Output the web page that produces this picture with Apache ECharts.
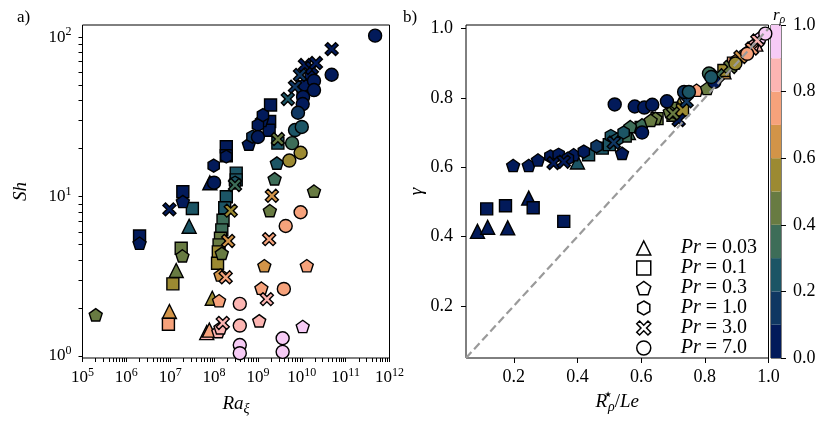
<!DOCTYPE html>
<html><head><meta charset="utf-8">
<script src="https://cdn.jsdelivr.net/npm/echarts@6/dist/echarts.min.js"></script>
<style>html,body{margin:0;padding:0;background:#fff}#c{width:830px;height:422px}</style>
</head><body><div id="c"></div>
<script>
// ---------- data ----------
const prNames = ['Pr = 0.03','Pr = 0.1','Pr = 0.3','Pr = 1.0','Pr = 3.0','Pr = 7.0'];
// left panel: [Ra_xi, Sh, r_rho]
const leftTri = [[8.0e7,12.2,0.05],[2.7e7,6.5,0.25],[1.37e7,3.43,0.45],[9.6e6,1.90,0.65],[9.1e7,2.30,0.55],[6.8e7,1.40,0.85],[7.8e7,1.45,0.75]];
const leftSq = [[1.94e9,37.5,0.05],[1.85e9,29.5,0.05],[1.8e9,26.0,0.05],[1.9e8,20.5,0.05],[1.9e8,18.0,0.05],[1.94e7,10.7,0.05],[2.0e6,5.65,0.05],[3.2e8,14.0,0.25],[3.2e8,12.7,0.25],[3.2e7,8.4,0.25],[2.85e9,21.6,0.25],[1.78e7,4.73,0.45],[1.15e7,2.83,0.55],[9.1e6,1.58,0.75],[1.9e8,9.97,0.25],[1.75e8,8.5,0.25],[1.6e8,7.1,0.35],[1.5e8,6.17,0.35],[1.4e8,5.47,0.45],[1.3e8,4.97,0.45],[1.25e8,4.49,0.55],[1.2e8,3.81,0.55]];
const leftPent = [[2.0e6,5.09,0.05],[1.94e7,9.3,0.05],[6.2e8,21.3,0.05],[1.23e9,30,0.05],[2.0e5,1.81,0.45],[2.7e9,16.2,0.25],[2.4e9,12.9,0.35],[1.9e10,10.8,0.45],[1.87e9,8.15,0.45],[1.9e7,4.24,0.45],[1.4e9,3.68,0.65],[1.3e10,3.68,0.75],[1.2e9,2.66,0.75],[1.07e9,1.66,0.85],[1.05e10,1.53,0.95],[1.5e8,4.4,0.45],[1.4e8,3.22,0.65],[1.3e8,2.22,0.75],[1.25e8,1.42,0.85],[1.4e8,1.5,0.85]];
const leftHex = [[9.8e7,15.6,0.05],[1.9e8,17.8,0.05],[7.5e8,23.7,0.15],[1.0e9,28,0.05],[1.3e9,32.4,0.05],[3.0e8,12.2,0.25],[1.05e10,44,0.05],[1.15e10,50,0.05],[1.6e10,57,0.05]];
const leftX = [[4.8e10,84,0.05],[1.18e10,66.7,0.05],[1.7e10,64,0.05],[2.1e10,68.7,0.05],[9.1e9,57.8,0.15],[7.0e9,48.8,0.15],[4.8e9,40.9,0.25],[2.85e9,22.9,0.45],[2.08e9,10.1,0.65],[1.8e9,5.4,0.7],[1.6e9,2.27,0.85],[9.6e6,8.3,0.05],[3.0e8,11.8,0.35],[2.4e8,8.15,0.5],[2.1e8,5.26,0.65],[1.84e8,3.11,0.75],[1.58e8,1.61,0.85]];
const leftCirc = [[4.7e11,102,0.05],[4.8e10,58,0.05],[1.9e10,53.2,0.05],[1.9e10,46.5,0.05],[1.07e10,42,0.05],[1.05e10,38,0.05],[8.2e9,33.5,0.15],[7.0e9,26.1,0.25],[1.0e10,27.3,0.25],[6.0e9,21.6,0.35],[9.4e9,18.8,0.55],[5.2e9,16.8,0.55],[1.0e9,23.6,0.05],[1.0e8,12.2,0.05],[9.4e9,7.96,0.75],[4.3e9,6.53,0.75],[3.9e9,2.63,0.75],[3.86e8,2.12,0.85],[3.86e8,1.55,0.85],[3.86e8,1.17,0.95],[3.86e8,1.04,0.95],[3.66e9,1.29,0.95],[3.66e9,1.06,0.95]];
// right panel: [R*/Le, gamma, r_rho]
const rightTri = [[0.086,0.415,0.05],[0.118,0.427,0.05],[0.181,0.425,0.05],[0.247,0.511,0.05],[0.40,0.615,0.25],[0.56,0.70,0.35],[0.72,0.78,0.55],[0.86,0.875,0.65],[0.96,0.955,0.85]];
const rightSq = [[0.115,0.48,0.05],[0.174,0.489,0.05],[0.261,0.483,0.05],[0.357,0.444,0.05],[0.435,0.636,0.25],[0.478,0.655,0.25],[0.50,0.665,0.25],[0.55,0.69,0.35],[0.60,0.715,0.35],[0.65,0.74,0.45],[0.697,0.77,0.45],[0.70,0.75,0.45],[0.73,0.765,0.55],[0.86,0.879,0.55],[0.89,0.90,0.75]];
const rightPent = [[0.198,0.605,0.05],[0.247,0.605,0.05],[0.276,0.621,0.05],[0.388,0.636,0.05],[0.54,0.64,0.05],[0.566,0.717,0.35],[0.603,0.722,0.35],[0.645,0.741,0.45],[0.63,0.735,0.45],[0.774,0.822,0.75],[0.807,0.827,0.45],[0.69,0.76,0.45],[0.90,0.91,0.65],[0.93,0.93,0.75],[0.95,0.95,0.85],[0.975,0.975,0.95]];
const rightHex = [[0.315,0.631,0.05],[0.341,0.636,0.05],[0.42,0.645,0.05],[0.505,0.69,0.25],[0.525,0.68,0.25],[0.545,0.70,0.25],[0.37,0.625,0.05],[0.46,0.66,0.15]];
const rightX = [[0.325,0.612,0.05],[0.357,0.616,0.05],[0.514,0.671,0.15],[0.718,0.736,0.05],[0.743,0.79,0.15],[0.84,0.865,0.35],[0.88,0.889,0.45],[0.912,0.918,0.65],[0.948,0.942,0.75],[0.965,0.965,0.85],[0.70,0.755,0.45]];
const rightCirc = [[0.517,0.781,0.05],[0.58,0.775,0.05],[0.61,0.772,0.05],[0.635,0.78,0.05],[0.681,0.79,0.05],[0.603,0.70,0.05],[0.735,0.817,0.15],[0.75,0.817,0.25],[0.83,0.846,0.05],[0.813,0.87,0.35],[0.896,0.899,0.55],[0.933,0.927,0.75],[0.99,0.985,0.95],[0.82,0.86,0.25]];
const diagLine = [[0.05,0.05],[1.0,1.0]];
// ticks
const raTicks = [1e5,1e6,1e7,1e8,1e9,1e10,1e11,1e12];
const shTicks = [1,10,100];
const ratioTicks = [0.2,0.4,0.6,0.8,1.0];
const gammaTicks = [0.2,0.4,0.6,0.8,1.0];
// colorbar
const cbBounds = [0,0.1,0.2,0.3,0.4,0.5,0.6,0.7,0.8,0.9,1.0];
const cmap = ['#021a5a','#0f3762','#1c5565','#3d6d58','#687b42','#9c8a32','#d29448','#f6a27b','#fcb5b2','#f7cbf6'];

// ---------- styling ----------
const FF = 'Liberation Serif';
const shapes = [
  'triangle','rect',
  'path://M0,-1L0.951,-0.309L0.588,0.809L-0.588,0.809L-0.951,-0.309Z',
  'path://M0,-1L0.866,-0.5L0.866,0.5L0,1L-0.866,0.5L-0.866,-0.5Z',
  'path://M-1,-0.6L-0.6,-1L0,-0.4L0.6,-1L1,-0.6L0.4,0L1,0.6L0.6,1L0,0.4L-0.6,1L-1,0.6L-0.4,0Z',
  'circle'];
const sizes = [14,12,13,13,13,13];
const leftSets = [leftTri,leftSq,leftPent,leftHex,leftX,leftCirc];
const rightSets = [rightTri,rightSq,rightPent,rightHex,rightX,rightCirc];

// tick positions on the log axes: decades plus 2..9 sub-divisions
const raAllTicks = raTicks.slice(), shAllTicks = shTicks.slice();
for (let e=5;e<12;e++) for (let k=2;k<10;k++) raAllTicks.push(k*Math.pow(10,e));
for (let e=0;e<3;e++) for (let k=2;k<10;k++) { const v=k*Math.pow(10,e); if (v<119) shAllTicks.push(v); }
raAllTicks.sort((a,b)=>a-b); shAllTicks.sort((a,b)=>a-b);

const supRich = {sup:{fontSize:12, fontFamily:FF, padding:[0,0,10,0]}};
const logLabel = {color:'#000', fontFamily:FF, fontSize:17};
const linLabel = {color:'#000', fontFamily:FF, fontSize:18};
const pow10 = v => '10{sup|' + Math.round(Math.log10(v)) + '}';

const series = [];
leftSets.forEach((d,i)=>series.push({
  type:'scatter', name:prNames[i], xAxisIndex:0, yAxisIndex:0, data:d,
  symbol:shapes[i], symbolSize:sizes[i], symbolKeepAspect:true,
  itemStyle:{borderColor:'#000', borderWidth:1.4, opacity:1}, z:2
}));
rightSets.forEach((d,i)=>series.push({
  type:'scatter', name:prNames[i], xAxisIndex:1, yAxisIndex:1, data:d,
  symbol:shapes[i], symbolSize:sizes[i], symbolKeepAspect:true,
  itemStyle:{borderColor:'#000', borderWidth:1.4, opacity:1}, z:2
}));
series.push({type:'line', name:'diag', xAxisIndex:1, yAxisIndex:1, data:diagLine, symbol:'none',
  lineStyle:{color:'#9a9a9a', width:2.2, type:[8,4]}, z:5, silent:true});
cmap.forEach((c,i)=>series.push({type:'bar', name:'cb'+i, xAxisIndex:2, yAxisIndex:2, stack:'cb',
  data:[+(cbBounds[i+1]-cbBounds[i]).toFixed(2)], barWidth:'100%', itemStyle:{color:c}, silent:true}));

const pieces = cmap.map((c,i)=>({gte:cbBounds[i], lt: i===cmap.length-1 ? 1.0001 : cbBounds[i+1], color:c}));

const tickMajor = {show:true, length:5, lineStyle:{color:'#000', width:1}};
const tickLog = {show:true, length:4, lineStyle:{color:'#000', width:1}};
const noLine = {show:false, onZero:false};

const option = {
  animation:false,
  backgroundColor:'#fff',
  title:[
    {text:'a)', left:12, top:4, textStyle:{fontFamily:FF, fontSize:17, fontWeight:'normal', color:'#000'}},
    {text:'b)', left:398, top:4, textStyle:{fontFamily:FF, fontSize:17, fontWeight:'normal', color:'#000'}},
    {text:'{i|r}{sub|ρ}', left:768, top:0, textStyle:{fontFamily:FF, fontSize:17, fontWeight:'normal', color:'#000',
      rich:{i:{fontStyle:'italic', fontFamily:FF, fontSize:17}, sub:{fontSize:12, fontStyle:'italic', fontFamily:FF, padding:[9,0,0,0]}}}}
  ],
  grid:[
    {left:82.5, top:25, width:307, height:333, show:true, borderColor:'#000', borderWidth:1, backgroundColor:'transparent'},
    {left:466, top:25, width:302.5, height:333, show:true, borderColor:'#000', borderWidth:1, backgroundColor:'transparent'},
    {left:771, top:25, width:10, height:333, show:true, borderColor:'#000', borderWidth:1, backgroundColor:'transparent'}
  ],
  xAxis:[
    {type:'log', gridIndex:0, position:'bottom', min:1e5, max:1e12, axisLine:noLine, splitLine:{show:false},
     axisTick:Object.assign({customValues:raAllTicks}, tickLog),
     axisLabel:Object.assign({customValues:raTicks, formatter:pow10, margin:9, rich:supRich}, logLabel),
     name:'{i|Ra}{sub|ξ}', nameLocation:'middle', nameGap:34,
     nameTextStyle:{fontFamily:FF, fontSize:19, color:'#000', rich:{i:{fontStyle:'italic', fontFamily:FF, fontSize:19}, sub:{fontSize:14, fontStyle:'italic', fontFamily:FF, padding:[10,0,0,0]}}}},
    {type:'value', gridIndex:1, position:'bottom', min:0.05, max:1.0, axisLine:noLine, splitLine:{show:false},
     axisTick:Object.assign({customValues:ratioTicks}, tickMajor),
     axisLabel:Object.assign({customValues:ratioTicks, formatter:v=>v.toFixed(1), margin:10}, linLabel),
     name:'{i|R}{st|★}{sub|ρ}{n|/}{i|Le}', nameLocation:'middle', nameGap:32,
     nameTextStyle:{fontFamily:FF, fontSize:19, color:'#000', rich:{
       i:{fontStyle:'italic', fontFamily:FF, fontSize:19}, n:{fontFamily:FF, fontSize:19},
       st:{fontSize:8, fontFamily:'DejaVu Sans', width:0, padding:[0,0,14,1]},
       sub:{fontSize:14, fontStyle:'italic', fontFamily:FF, padding:[10,0,0,0]}}}},
    {type:'category', gridIndex:2, data:['cb'], show:false}
  ],
  yAxis:[
    {type:'log', gridIndex:0, position:'left', min:0.97, max:119, axisLine:noLine, splitLine:{show:false},
     axisTick:Object.assign({customValues:shAllTicks}, tickLog),
     axisLabel:Object.assign({customValues:shTicks, formatter:pow10, margin:11, rich:supRich}, logLabel),
     name:'{i|Sh}', nameLocation:'middle', nameGap:52,
     nameTextStyle:{fontFamily:FF, fontSize:19, color:'#000', rich:{i:{fontStyle:'italic', fontFamily:FF, fontSize:19}}}},
    {type:'value', gridIndex:1, position:'left', min:0.05, max:1.01, axisLine:noLine, splitLine:{show:false},
     axisTick:Object.assign({customValues:gammaTicks}, tickMajor),
     axisLabel:Object.assign({customValues:gammaTicks, formatter:v=>v.toFixed(1), margin:13}, linLabel),
     name:'{i|γ}', nameLocation:'middle', nameGap:34,
     nameTextStyle:{fontFamily:FF, fontSize:19, color:'#000', rich:{i:{fontStyle:'italic', fontFamily:FF, fontSize:19}}}},
    {type:'value', gridIndex:2, position:'right', min:0, max:1, interval:0.2, axisLine:noLine, splitLine:{show:false},
     axisTick:tickMajor, axisLabel:Object.assign({formatter:v=>v.toFixed(1), margin:12}, linLabel)}
  ],
  visualMap:{type:'piecewise', show:false, seriesIndex:[0,1,2,3,4,5,6,7,8,9,10,11], dimension:2, pieces:pieces},
  legend:{
    data: prNames.map((n,i)=>({name:n, icon:shapes[i], itemStyle:{color:'#fff', borderColor:'#000', borderWidth:1.5}})),
    orient:'vertical', left:631, top:233, itemWidth:14, itemHeight:14, itemGap:0, selectedMode:false,
    formatter: n => '{g|}{i|Pr} = ' + n.split('= ')[1],
    textStyle:{fontFamily:FF, fontSize:20, color:'#000', lineHeight:20,
      rich:{g:{width:25}, i:{fontStyle:'italic', fontFamily:FF, fontSize:20}}}
  },
  series: series
};
const chart = echarts.init(document.getElementById('c'), null, {renderer:'canvas'});
chart.setOption(option);
</script></body></html>
